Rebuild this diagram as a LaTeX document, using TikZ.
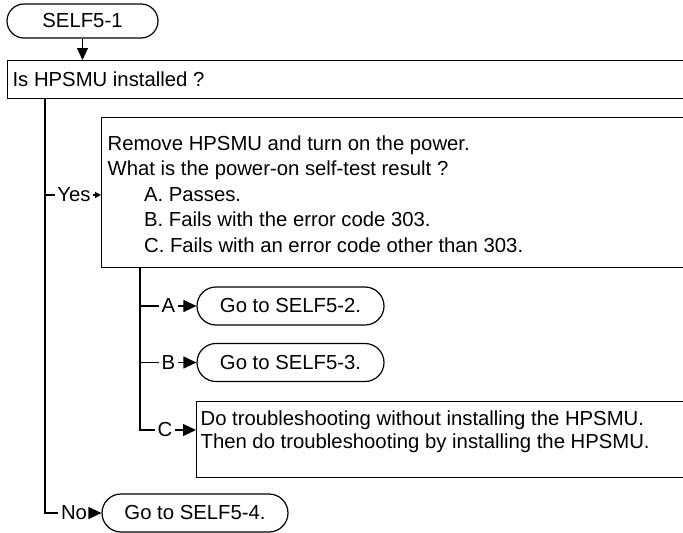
\documentclass[tikz,border=0pt]{standalone}
\usepackage{fontspec}
\setmainfont{Liberation Sans}
\usetikzlibrary{arrows.meta,shapes.misc}
\begin{document}
\begin{tikzpicture}[x=1pt,y=-1pt,
  font=\fontsize{20.3}{25.5}\selectfont,
  line width=1.2pt,
  term/.style={rounded rectangle, draw, inner sep=0pt, minimum height=38pt},
  boxr/.style={draw, rectangle, inner sep=0pt, anchor=north west},
  lbl/.style={inner sep=2pt},
  txt/.style={inner sep=0pt, anchor=west, align=left},
  arr/.style={-{Triangle[length=13pt,width=12pt]}},
  sarr/.style={-{Triangle[length=6pt,width=6pt]}}]
\useasboundingbox (0,0) rectangle (683,533);

% start terminal
\node[term, minimum width=151pt, minimum height=34pt] (start) at (82.5,21) {SELF5-1};

% question 1
\node[boxr, minimum width=700pt, minimum height=38pt] (q1) at (7,60) {};
\node[txt] (q1t) at (12,79) {Is HPSMU installed ?};
\draw[-{Triangle[length=12pt,width=11pt]}] (start.south -| 82.5,0) -- (q1.north -| 82.5,0);

% question 2
\node[boxr, minimum width=650pt, minimum height=150pt] (q2) at (101,117) {};
\node[txt] (q2t) at (107,194) {Remove HPSMU and turn on the power.\\
What is the power-on self-test result ?\\
\hspace{36.5pt}A. Passes.\\
\hspace{36.5pt}B. Fails with the error code 303.\\
\hspace{36.5pt}C. Fails with an error code other than 303.};

% results
\node[term, minimum width=187pt] (ta) at (290.5,306) {Go to SELF5-2.};
\node[term, minimum width=187pt] (tb) at (290.5,362.5) {Go to SELF5-3.};
\node[boxr, minimum width=520pt, minimum height=76pt] (qc) at (196,401) {};
\node[txt, font=\fontsize{20.3}{23}\selectfont] (qct) at (200,431.5) {Do troubleshooting without installing the HPSMU.\\
Then do troubleshooting by installing the HPSMU.};
\node[term, minimum width=186pt] (tno) at (195,513) {Go to SELF5-4.};

% labels
\node[lbl] (yes) at (74,195) {Yes};
\node[lbl] (la) at (168.5,306) {A};
\node[lbl] (lb) at (168.5,362.5) {B};
\node[lbl] (lc) at (165,430) {C};
\node[lbl] (lno) at (74,513) {No};

\coordinate (vm) at (45,0);
\coordinate (vs) at (140,0);

% main branch
\draw (q1.south -| vm) |- (lno.west);
\draw[arr] (lno.east) -- (tno.west);
\draw (vm |- yes) -- (yes.west);
\draw[sarr] (yes.east) -- (yes.east -| q2.west);

% sub branch
\draw (q2.south -| vs) |- (lc.west);
\draw (vs |- la) -- (la.west);
\draw (vs |- lb) -- (lb.west);
\draw[arr] (la.east) -- (ta.west);
\draw[arr] (lb.east) -- (tb.west);
\draw[arr] (lc.east) -- (lc.east -| qc.west);
\end{tikzpicture}
\end{document}
